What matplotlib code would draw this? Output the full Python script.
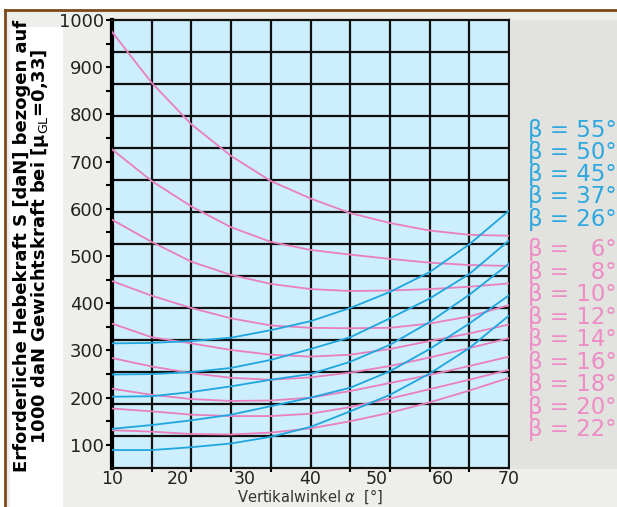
import matplotlib
matplotlib.use('Agg')
import matplotlib.pyplot as plt
from matplotlib.patches import Rectangle

# vertical angle alpha [deg] at which the curves were read
alpha = [10, 16, 22, 28, 34, 40, 46, 52, 58, 64, 70]

# pink curves (beta 6..22 deg)
pink_betas = [6, 8, 10, 12, 14, 16, 18, 20, 22]
s_b06 = [975, 867, 779, 712, 659, 622, 591, 570, 554, 545, 543]
s_b08 = [726, 659, 605, 561, 530, 513, 503, 494, 486, 481, 479]
s_b10 = [577, 530, 488, 460, 441, 430, 426, 427, 430, 435, 442]
s_b12 = [447, 416, 390, 368, 353, 348, 347, 348, 357, 372, 396]
s_b14 = [357, 328, 315, 301, 291, 287, 291, 303, 320, 336, 355]
s_b16 = [284, 266, 252, 242, 238, 243, 253, 267, 285, 305, 326]
s_b18 = [219, 206, 197, 193, 194, 200, 214, 231, 248, 267, 287]
s_b20 = [177, 171, 164, 161, 161, 166, 180, 198, 218, 238, 259]
s_b22 = [131, 128, 123, 122, 126, 135, 150, 168, 190, 215, 242]
pink_series = [s_b06, s_b08, s_b10, s_b12, s_b14, s_b16, s_b18, s_b20, s_b22]

# blue curves (beta 26..55 deg)
blue_betas = [55, 50, 45, 37, 26]
s_b55 = [315, 316, 320, 327, 343, 362, 390, 424, 466, 525, 596]
s_b50 = [249, 250, 254, 263, 280, 303, 328, 368, 410, 462, 533]
s_b45 = [202, 203, 212, 224, 238, 250, 276, 312, 360, 418, 484]
s_b37 = [134, 142, 152, 164, 182, 200, 221, 256, 303, 357, 417]
s_b26 = [89, 89, 95, 103, 117, 138, 171, 206, 251, 305, 374]
blue_series = [s_b55, s_b50, s_b45, s_b37, s_b26]

PINK = '#e97fbd'
BLUE = '#1fa6de'

fig = plt.figure(figsize=(6.17, 5.07), dpi=100, facecolor='#eeeeea')

# frame / white strips like the scanned original
fig.patches.append(Rectangle((0, 0.98), 1, 0.02, transform=fig.transFigure,
                             facecolor='white', edgecolor='none', zorder=0))
fig.patches.append(Rectangle((0, 0), 0.008, 1, transform=fig.transFigure,
                             facecolor='white', edgecolor='none', zorder=0))
fig.add_artist(plt.Line2D([0.008, 1], [0.98, 0.98], color='#7a4a1a', lw=2))
fig.add_artist(plt.Line2D([0.008, 0.008], [0, 0.98], color='#7a4a1a', lw=2))
fig.patches.append(Rectangle((0.017, 0.0), 0.085, 0.947, transform=fig.transFigure,
                             facecolor='white', edgecolor='none', zorder=0))
fig.patches.append(Rectangle((0.826, 0.075), 0.174, 0.885, transform=fig.transFigure,
                             facecolor='#e2e2df', edgecolor='none', zorder=0))

ax = fig.add_axes([0.1815, 0.076, 0.6435, 0.8845])
ax.set_facecolor('#cdeefc')
ax.set_xlim(10, 70)
ax.set_ylim(50, 1000)

# grid: 10 columns, 14 rows (not tied to the tick values)
for k in range(1, 10):
    ax.axvline(10 + k * 6, color='#111111', lw=1.6, zorder=1)
for k in range(1, 14):
    ax.axhline(50 + k * 950 / 14, color='#111111', lw=1.6, zorder=1)

for ys in pink_series:
    ax.plot(alpha, ys, color=PINK, lw=1.3, zorder=3)
for ys in blue_series:
    ax.plot(alpha, ys, color=BLUE, lw=1.3, zorder=4)

ax.set_yticks(range(100, 1001, 100))
ax.set_yticks(range(150, 1000, 100), minor=True)
ax.set_xticks(range(10, 71, 10))
ax.set_xticks(range(16, 70, 6), minor=True)
ax.tick_params(axis='y', which='both', direction='out', length=4, width=1.5,
               labelsize=13, labelcolor='#222222', pad=2)
ax.tick_params(axis='x', which='major', length=0, labelsize=12.5,
               labelcolor='#222222', pad=1)
ax.tick_params(axis='x', which='minor', direction='out', length=3, width=1.5)

for side in ['top', 'right', 'bottom']:
    ax.spines[side].set_linewidth(1.6)
    ax.spines[side].set_color('#111111')
ax.spines['left'].set_linewidth(3)
ax.spines['left'].set_color('#000000')

ax.set_xlabel('Vertikalwinkel $\\alpha$  [°]', fontsize=10.5, color='#333333', labelpad=0)

fig.text(0.052, 0.515,
         'Erforderliche Hebekraft S [daN] bezogen auf\n'
         '1000 daN Gewichtskraft bei [μ$_{\\mathrm{GL}}$=0,33]',
         rotation=90, ha='center', va='center', fontsize=13, fontweight='bold',
         multialignment='center', linespacing=0.92)

# beta labels at the right
y0 = 0.742
for i, b in enumerate(blue_betas):
    fig.text(0.855, y0 - i * 0.0435, 'β = %d°' % b, fontsize=16.5, color='#2fa8e0',
             ha='left', va='center')
y1 = 0.507
for i, b in enumerate(pink_betas):
    lab = 'β =   %d°' % b if b < 10 else 'β = %d°' % b
    fig.text(0.855, y1 - i * 0.0443, lab, fontsize=16.5, color='#ee8cc6',
             ha='left', va='center')

fig.savefig('out.png', dpi=100, facecolor=fig.get_facecolor())
